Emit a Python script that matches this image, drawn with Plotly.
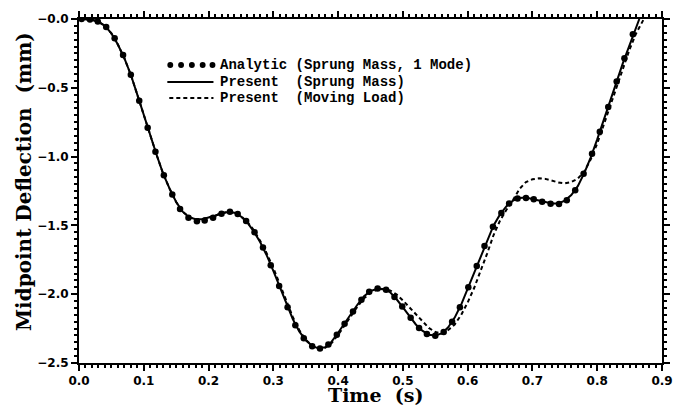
import plotly.graph_objects as go

# ---------------- data ----------------
t_present = [0.00, 0.01, 0.02, 0.03, 0.04, 0.05, 0.06, 0.07, 0.08, 0.09,
             0.10, 0.11, 0.12, 0.13, 0.14, 0.15, 0.16, 0.17, 0.18, 0.19,
             0.20, 0.21, 0.22, 0.23, 0.24, 0.25, 0.26, 0.27, 0.28, 0.29,
             0.30, 0.31, 0.32, 0.33, 0.34, 0.35, 0.36, 0.37, 0.38, 0.39,
             0.40, 0.41, 0.42, 0.43, 0.44, 0.45, 0.46, 0.47, 0.48, 0.49,
             0.50, 0.51, 0.52, 0.53, 0.54, 0.55, 0.56, 0.57, 0.58, 0.59,
             0.60, 0.61, 0.62, 0.63, 0.64, 0.65, 0.66, 0.67, 0.68, 0.69,
             0.70, 0.71, 0.72, 0.73, 0.74, 0.75, 0.76, 0.77, 0.78, 0.79,
             0.80, 0.81, 0.82, 0.83, 0.84, 0.85, 0.86, 0.865]
y_sprung = [0.000, -0.002, -0.005, -0.020, -0.050, -0.105, -0.185, -0.285, -0.405, -0.550,
            -0.700, -0.850, -0.990, -1.125, -1.235, -1.330, -1.400, -1.440, -1.455, -1.455,
            -1.445, -1.430, -1.412, -1.402, -1.408, -1.435, -1.480, -1.545, -1.625, -1.720,
            -1.830, -1.950, -2.070, -2.180, -2.270, -2.335, -2.375, -2.395, -2.385, -2.345,
            -2.280, -2.210, -2.140, -2.075, -2.015, -1.978, -1.960, -1.962, -1.985, -2.035,
            -2.095, -2.160, -2.220, -2.265, -2.295, -2.300, -2.285, -2.240, -2.170, -2.075,
            -1.960, -1.840, -1.720, -1.605, -1.500, -1.420, -1.360, -1.320, -1.300, -1.298,
            -1.308, -1.320, -1.332, -1.340, -1.340, -1.320, -1.280, -1.215, -1.120, -1.005,
            -0.875, -0.740, -0.600, -0.455, -0.315, -0.185, -0.070, 0.000]

t_moving = [0.00, 0.01, 0.02, 0.03, 0.04, 0.05, 0.06, 0.07, 0.08, 0.09,
            0.10, 0.11, 0.12, 0.13, 0.14, 0.15, 0.16, 0.17, 0.18, 0.19,
            0.20, 0.21, 0.22, 0.23, 0.24, 0.25, 0.26, 0.27, 0.28, 0.29,
            0.30, 0.31, 0.32, 0.33, 0.34, 0.35, 0.36, 0.37, 0.38, 0.39,
            0.40, 0.41, 0.42, 0.43, 0.44, 0.45, 0.46, 0.47, 0.48, 0.49,
            0.50, 0.51, 0.52, 0.53, 0.54, 0.55, 0.56, 0.57, 0.58, 0.59,
            0.60, 0.61, 0.62, 0.63, 0.64, 0.65, 0.66, 0.67, 0.68, 0.69,
            0.70, 0.71, 0.72, 0.73, 0.74, 0.75, 0.76, 0.77, 0.78, 0.79,
            0.80, 0.81, 0.82, 0.83, 0.84, 0.85, 0.86, 0.87, 0.872]
y_moving = [0.000, -0.002, -0.005, -0.020, -0.050, -0.105, -0.185, -0.285, -0.405, -0.550,
            -0.700, -0.850, -0.990, -1.125, -1.235, -1.330, -1.400, -1.440, -1.455, -1.455,
            -1.445, -1.430, -1.412, -1.402, -1.408, -1.432, -1.475, -1.535, -1.615, -1.705,
            -1.810, -1.930, -2.050, -2.165, -2.260, -2.330, -2.375, -2.395, -2.390, -2.355,
            -2.295, -2.225, -2.155, -2.090, -2.030, -1.990, -1.968, -1.962, -1.972, -2.000,
            -2.045, -2.095, -2.150, -2.200, -2.245, -2.275, -2.285, -2.260, -2.220, -2.150,
            -2.060, -1.955, -1.835, -1.705, -1.570, -1.465, -1.385, -1.315, -1.235, -1.185,
            -1.165, -1.158, -1.162, -1.175, -1.188, -1.195, -1.185, -1.160, -1.110, -1.020,
            -0.905, -0.770, -0.630, -0.490, -0.350, -0.220, -0.105, -0.010, 0.000]

t_analytic = [0.004, 0.017, 0.029, 0.042, 0.055, 0.068, 0.080, 0.093, 0.106, 0.118,
              0.131, 0.144, 0.156, 0.169, 0.182, 0.194, 0.207, 0.220, 0.233, 0.245,
              0.258, 0.271, 0.284, 0.296, 0.309, 0.322, 0.334, 0.347, 0.360, 0.372,
              0.385, 0.398, 0.410, 0.423, 0.436, 0.448, 0.461, 0.474, 0.487, 0.499,
              0.512, 0.525, 0.537, 0.550, 0.563, 0.576, 0.588, 0.601, 0.614, 0.626,
              0.639, 0.652, 0.664, 0.677, 0.690, 0.702, 0.715, 0.728, 0.741, 0.753,
              0.766, 0.779, 0.792, 0.804, 0.817, 0.830, 0.842, 0.855]
y_analytic = [0.000, -0.003, -0.018, -0.058, -0.140, -0.262, -0.405, -0.595, -0.790, -0.965,
              -1.135, -1.275, -1.380, -1.445, -1.470, -1.465, -1.445, -1.415, -1.400, -1.418,
              -1.468, -1.550, -1.660, -1.790, -1.940, -2.095, -2.225, -2.320, -2.378, -2.395,
              -2.365, -2.295, -2.215, -2.125, -2.040, -1.982, -1.958, -1.968, -2.020, -2.090,
              -2.172, -2.245, -2.290, -2.302, -2.275, -2.200, -2.095, -1.950, -1.795, -1.650,
              -1.510, -1.410, -1.340, -1.305, -1.300, -1.310, -1.328, -1.342, -1.345, -1.318,
              -1.245, -1.125, -0.980, -0.820, -0.640, -0.455, -0.285, -0.110]

x_range = [0, 0.9]
y_range = [-2.5, 0]
x_minor_vals = [0.00, 0.01, 0.02, 0.03, 0.04, 0.05, 0.06, 0.07, 0.08, 0.09,
                0.10, 0.11, 0.12, 0.13, 0.14, 0.15, 0.16, 0.17, 0.18, 0.19,
                0.20, 0.21, 0.22, 0.23, 0.24, 0.25, 0.26, 0.27, 0.28, 0.29,
                0.30, 0.31, 0.32, 0.33, 0.34, 0.35, 0.36, 0.37, 0.38, 0.39,
                0.40, 0.41, 0.42, 0.43, 0.44, 0.45, 0.46, 0.47, 0.48, 0.49,
                0.50, 0.51, 0.52, 0.53, 0.54, 0.55, 0.56, 0.57, 0.58, 0.59,
                0.60, 0.61, 0.62, 0.63, 0.64, 0.65, 0.66, 0.67, 0.68, 0.69,
                0.70, 0.71, 0.72, 0.73, 0.74, 0.75, 0.76, 0.77, 0.78, 0.79,
                0.80, 0.81, 0.82, 0.83, 0.84, 0.85, 0.86, 0.87, 0.88, 0.89, 0.90]
y_minor_vals = [0.00, -0.05, -0.10, -0.15, -0.20, -0.25, -0.30, -0.35, -0.40, -0.45,
                -0.50, -0.55, -0.60, -0.65, -0.70, -0.75, -0.80, -0.85, -0.90, -0.95,
                -1.00, -1.05, -1.10, -1.15, -1.20, -1.25, -1.30, -1.35, -1.40, -1.45,
                -1.50, -1.55, -1.60, -1.65, -1.70, -1.75, -1.80, -1.85, -1.90, -1.95,
                -2.00, -2.05, -2.10, -2.15, -2.20, -2.25, -2.30, -2.35, -2.40, -2.45, -2.50]
y_label_alias = {"0.0": "\u22120.0"}

legend_labels = ["Analytic\u00a0(Sprung\u00a0Mass,\u00a01\u00a0Mode)",
                 "Present\u00a0\u00a0(Sprung\u00a0Mass)",
                 "Present\u00a0\u00a0(Moving\u00a0Load)"]

# ---------------- figure ----------------
W, H = 684, 406
L, R, T, B = 79, 11, 19, 43
PW, PH = W - L - R, H - T - B


def xp(px):
    return (px - L) / PW


def yp(py):
    return (H - B - py) / PH


fig = go.Figure()
# the moving-load curve lives on the overlaid axes (same ranges) that carry the minor ticks
fig.add_trace(go.Scatter(x=t_moving, y=y_moving, mode="lines", xaxis="x2", yaxis="y2",
                         line=dict(color="black", width=2, dash="4px,3px"),
                         showlegend=False))
fig.add_trace(go.Scatter(x=t_present, y=y_sprung, mode="lines",
                         line=dict(color="black", width=2),
                         showlegend=False))
fig.add_trace(go.Scatter(x=t_analytic, y=y_analytic, mode="markers",
                         marker=dict(color="black", size=6.5),
                         showlegend=False))

tickfont = dict(family="DejaVu Sans", size=12, color="black", weight="bold")
axis_common = dict(showline=True, linewidth=2, linecolor="black", mirror="ticks",
                   ticks="outside", ticklen=6, tickwidth=2, tickcolor="black",
                   showgrid=False, zeroline=False, tickfont=tickfont,
                   tickmode="linear", tickformat=".1f")
minor_common = dict(showline=False, ticks="outside", ticklen=4, tickwidth=1.5,
                    tickcolor="black", mirror="ticks", showgrid=False, zeroline=False,
                    showticklabels=False, tickmode="array")

fig.update_layout(
    xaxis=dict(range=x_range, tick0=0, dtick=0.1, **axis_common),
    yaxis=dict(range=y_range, tick0=0, dtick=0.5, labelalias=y_label_alias, **axis_common),
    xaxis2=dict(range=x_range, tickvals=x_minor_vals, overlaying="x", anchor="y2", **minor_common),
    yaxis2=dict(range=y_range, tickvals=y_minor_vals, overlaying="y", anchor="x2", **minor_common),
)

title_font = dict(family="DejaVu Serif", size=20, color="black", weight="bold")
annotations = [
    dict(text="Midpoint\u00a0Deflection\u00a0\u00a0(mm)", x=xp(23), y=yp(182), xref="paper", yref="paper",
         textangle=-90, showarrow=False, font=title_font, xanchor="center", yanchor="middle"),
    dict(text="Time\u00a0\u00a0(s)", x=xp(381), y=yp(395), xref="paper", yref="paper",
         showarrow=False, font=dict(family="DejaVu Serif", size=19, color="black", weight="bold"),
         xanchor="center", yanchor="middle"),
]
leg_font = dict(family="Liberation Mono", size=14, color="black", weight="bold")
row_y = [65, 82, 98]
for lab, ry in zip(legend_labels, row_y):
    annotations.append(dict(text=lab, x=xp(221), y=yp(ry), xref="paper", yref="paper",
                            showarrow=False, font=leg_font, xanchor="left", yanchor="middle"))

shapes = []
for cx in [172, 183, 194, 205, 215]:
    shapes.append(dict(type="circle", xref="paper", yref="paper",
                       x0=xp(cx - 3), x1=xp(cx + 3), y0=yp(row_y[0] + 3), y1=yp(row_y[0] - 3),
                       fillcolor="black", line=dict(color="black", width=0)))
shapes.append(dict(type="line", xref="paper", yref="paper",
                   x0=xp(169), x1=xp(216), y0=yp(row_y[1]), y1=yp(row_y[1]),
                   line=dict(color="black", width=2)))
shapes.append(dict(type="line", xref="paper", yref="paper",
                   x0=xp(171), x1=xp(216), y0=yp(row_y[2]), y1=yp(row_y[2]),
                   line=dict(color="black", width=2, dash="4px,3px")))

fig.update_layout(width=W, height=H, margin=dict(l=L, r=R, t=T, b=B),
                  plot_bgcolor="white", paper_bgcolor="white",
                  annotations=annotations, shapes=shapes, showlegend=False)

fig.write_html("out.html", config={"displayModeBar": False},
               post_script="document.body.style.margin='0';document.body.style.overflow='hidden';")
